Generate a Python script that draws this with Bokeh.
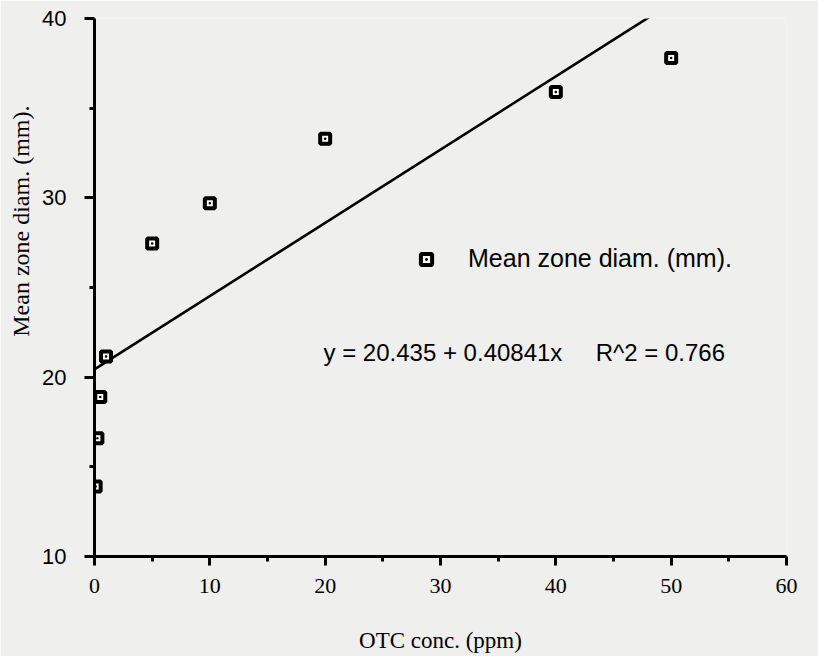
from bokeh.plotting import figure
from bokeh.models import (Range1d, Label, Legend, LegendItem, ColumnDataSource,
                          FixedTicker, Title)
from bokeh.embed import file_html
from bokeh.resources import INLINE

# ---- data ----
otc_ppm = [0.1, 0.25, 0.5, 1, 5, 10, 20, 40, 50]
zone_diam = [13.9, 16.6, 18.9, 21.15, 27.45, 29.7, 33.3, 35.9, 37.8]
intercept = 20.435
slope = 0.40841
r_squared = 0.766
x_ticks = [0, 10, 20, 30, 40, 50, 60]
x_minor = [5, 15, 25, 35, 45, 55]
y_ticks = [10, 20, 30, 40]
y_minor = [15, 25, 35]
series_name = "Mean zone diam. (mm)."
x_title = "OTC conc. (ppm)"
y_title = "Mean zone diam. (mm)."

BG = "#efefed"
SANS = "Liberation Sans"
SERIF = "Liberation Serif"

p = figure(width=818, height=656,
           x_range=Range1d(0, 60), y_range=Range1d(10, 40),
           output_backend="svg", toolbar_location=None,
           min_border_left=94, min_border_right=32,
           min_border_top=18, min_border_bottom=100,
           background_fill_color=BG, border_fill_color=BG)
p.outline_line_color = None
p.xgrid.visible = False
p.ygrid.visible = False

# ---- regression line ----
line_x = [min(otc_ppm), max(otc_ppm)]
line_y = [intercept + slope * v for v in line_x]
p.line(line_x, line_y, line_color="black", line_width=2.6)

# ---- points ----
src = ColumnDataSource(dict(x=otc_ppm, y=zone_diam))
sc = p.scatter("x", "y", source=src, marker="square_dot", size=10,
               line_width=4, line_color="black", fill_color="white")

legend = Legend(items=[LegendItem(label=series_name, renderers=[sc])],
                location=(318, 283), background_fill_alpha=0,
                border_line_color=None, padding=0, margin=0, spacing=0,
                glyph_width=28, glyph_height=28, label_standoff=28,
                label_text_font=SANS, label_text_font_size="25px",
                label_text_color="black", label_height=28)
p.add_layout(legend)

# ---- equation ----
gap = "\u00a0" * 5
eq = f"y = {intercept} + {slope}x{gap}R^2 = {r_squared}"
p.add_layout(Label(x=323 - 94, y=556 - 352, x_units="screen", y_units="screen",
                   text=eq, text_font=SANS, text_font_size="24px",
                   text_color="black", text_baseline="middle", text_align="left"))

# ---- axes ----
xa = p.xaxis[0]
xa.ticker = FixedTicker(ticks=x_ticks, minor_ticks=x_minor)
xa.axis_line_width = 3
xa.major_tick_line_width = 3
xa.minor_tick_line_width = 3
xa.major_tick_out = 9
xa.major_tick_in = 0
xa.minor_tick_out = 5
xa.minor_tick_in = 0
xa.major_label_standoff = 13
xa.major_label_text_font = SERIF
xa.major_label_text_font_size = "22px"
xa.major_label_text_color = "black"
xa.axis_label = x_title
xa.axis_label_text_font = SERIF
xa.axis_label_text_font_size = "23px"
xa.axis_label_text_font_style = "normal"
xa.axis_label_text_color = "black"
xa.axis_label_standoff = 32

ya = p.yaxis[0]
ya.ticker = FixedTicker(ticks=y_ticks, minor_ticks=y_minor)
ya.axis_line_width = 3
ya.major_tick_line_width = 3
ya.minor_tick_line_width = 3
ya.major_tick_out = 10
ya.major_tick_in = 0
ya.minor_tick_out = 5
ya.minor_tick_in = 0
ya.major_label_standoff = 18
ya.major_label_text_font = SANS
ya.major_label_text_font_size = "22px"
ya.major_label_text_color = "black"

ytitle = Title(text=y_title, align="right", vertical_align="top", offset=87,
               standoff=8, text_font=SERIF, text_font_size="24px",
               text_font_style="normal", text_color="black")
p.add_layout(ytitle, "left")

open("out.html", "w").write(file_html(p, INLINE))
